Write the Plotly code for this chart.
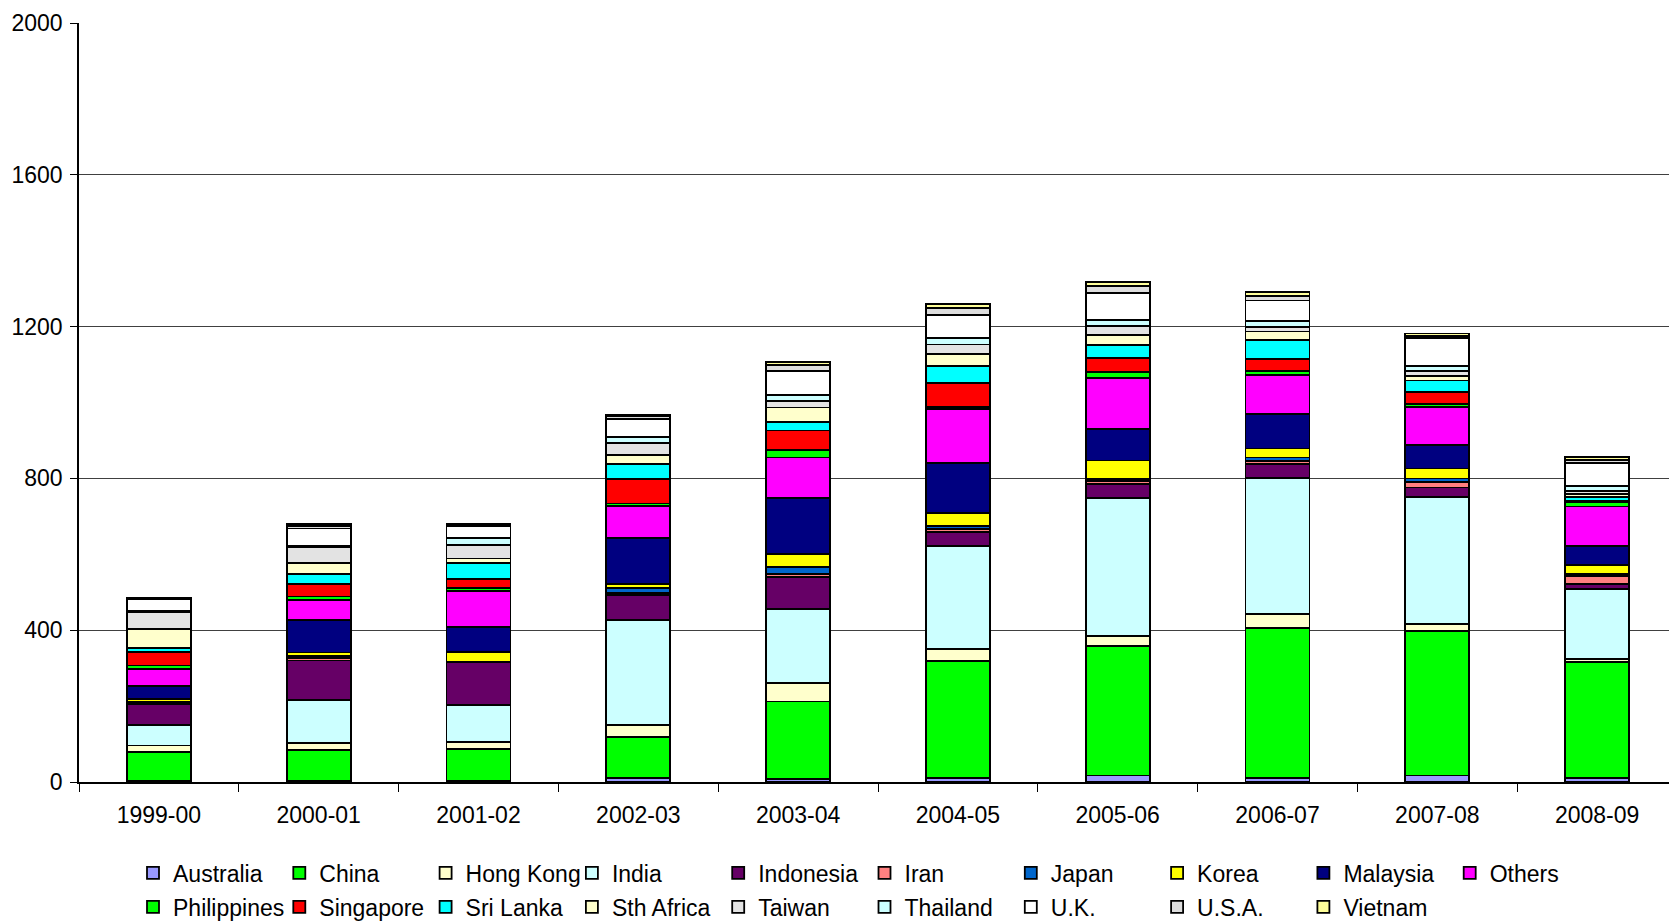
import plotly.graph_objects as go

years = ["1999-00", "2000-01", "2001-02", "2002-03", "2003-04",
         "2004-05", "2005-06", "2006-07", "2007-08", "2008-09"]

australia   = [2, 2, 2, 10, 8, 10, 17, 11, 17, 11]
china       = [77, 83, 85, 108, 204, 308, 342, 395, 381, 305]
hong_kong   = [17, 17, 19, 32, 48, 33, 26, 37, 18, 8]
india       = [54, 114, 97, 276, 196, 270, 364, 358, 335, 184]
indonesia   = [54, 104, 112, 66, 85, 37, 36, 37, 25, 14]
iran        = [3, 6, 1, 5, 8, 8, 8, 8, 15, 20]
japan       = [3, 5, 1, 14, 18, 8, 6, 9, 9, 6]
korea       = [8, 10, 26, 10, 34, 35, 48, 24, 26, 23]
malaysia    = [35, 85, 65, 122, 148, 131, 84, 90, 61, 51]
others      = [44, 54, 96, 85, 106, 142, 133, 104, 101, 104]
philippines = [10, 9, 8, 6, 19, 7, 16, 10, 8, 11]
singapore   = [36, 32, 22, 65, 52, 62, 38, 32, 31, 3]
sri_lanka   = [10, 28, 43, 40, 22, 45, 34, 50, 31, 10]
sth_africa  = [51, 28, 12, 22, 39, 31, 26, 22, 11, 8]
taiwan      = [43, 42, 35, 33, 16, 26, 23, 11, 14, 9]
thailand    = [4, 3, 18, 16, 16, 16, 16, 17, 14, 12]
uk          = [31, 46, 33, 47, 63, 62, 72, 54, 73, 62]
usa         = [2, 7, 3, 6, 17, 19, 18, 11, 6, 8]
vietnam     = [1, 5, 2, 4, 7, 9, 10, 11, 6, 8]

series = [
    ("Australia", australia, "#9999FF"),
    ("China", china, "#00FF00"),
    ("Hong Kong", hong_kong, "#FFFFCC"),
    ("India", india, "#CCFFFF"),
    ("Indonesia", indonesia, "#660066"),
    ("Iran", iran, "#FF8080"),
    ("Japan", japan, "#0066CC"),
    ("Korea", korea, "#FFFF00"),
    ("Malaysia", malaysia, "#000080"),
    ("Others", others, "#FF00FF"),
    ("Philippines", philippines, "#00FF00"),
    ("Singapore", singapore, "#FF0000"),
    ("Sri Lanka", sri_lanka, "#00FFFF"),
    ("Sth Africa", sth_africa, "#FFFFCC"),
    ("Taiwan", taiwan, "#E3E3E3"),
    ("Thailand", thailand, "#CCFFFF"),
    ("U.K.", uk, "#FFFFFF"),
    ("U.S.A.", usa, "#DDDDDD"),
    ("Vietnam", vietnam, "#FFFF99"),
]

FONT = "Liberation Sans, Arial, sans-serif"

fig = go.Figure()
for i, (name, vals, col) in enumerate(series):
    fig.add_trace(go.Bar(
        x=years, y=vals, name=name,
        marker=dict(color=col, line=dict(color="black", width=1.8)),
        legend="legend" if i < 10 else "legend2",
    ))

# page body has an 8px margin, so the figure is 8px smaller than the window
W, H = 1669, 914
leg_common = dict(
    orientation="h", xref="container", yref="container",
    xanchor="left", yanchor="middle", traceorder="normal",
    font=dict(family=FONT, size=23, color="black"),
    entrywidth=101.3, entrywidthmode="pixels",
    bgcolor="rgba(0,0,0,0)", borderwidth=0,
)

fig.update_layout(
    width=W, height=H,
    barmode="stack", bargap=0.6,
    plot_bgcolor="white", paper_bgcolor="white",
    margin=dict(l=71, r=0, t=15, b=140),
    font=dict(family=FONT, size=23, color="black"),
    showlegend=True,
    legend=dict(x=125 / W, y=1 - 865 / H, **leg_common),
    legend2=dict(x=125 / W, y=1 - 899 / H, **leg_common),
)

fig.update_xaxes(
    type="category", showline=True, linecolor="black", linewidth=1.5,
    ticks="outside", tickson="boundaries", ticklen=8, tickcolor="black",
    tickfont=dict(family=FONT, size=23, color="black"),
    showgrid=False, ticklabelstandoff=12,
)
fig.update_yaxes(
    range=[0, 2000], tickvals=[0, 400, 800, 1200, 1600, 2000],
    showline=True, linecolor="black", linewidth=1.5,
    ticks="outside", ticklen=7, tickcolor="black",
    showgrid=True, gridcolor="#404040", gridwidth=1,
    zeroline=False,
    tickfont=dict(family=FONT, size=23, color="black"),
    ticklabelstandoff=3,
)

fig.write_html("out.html")
